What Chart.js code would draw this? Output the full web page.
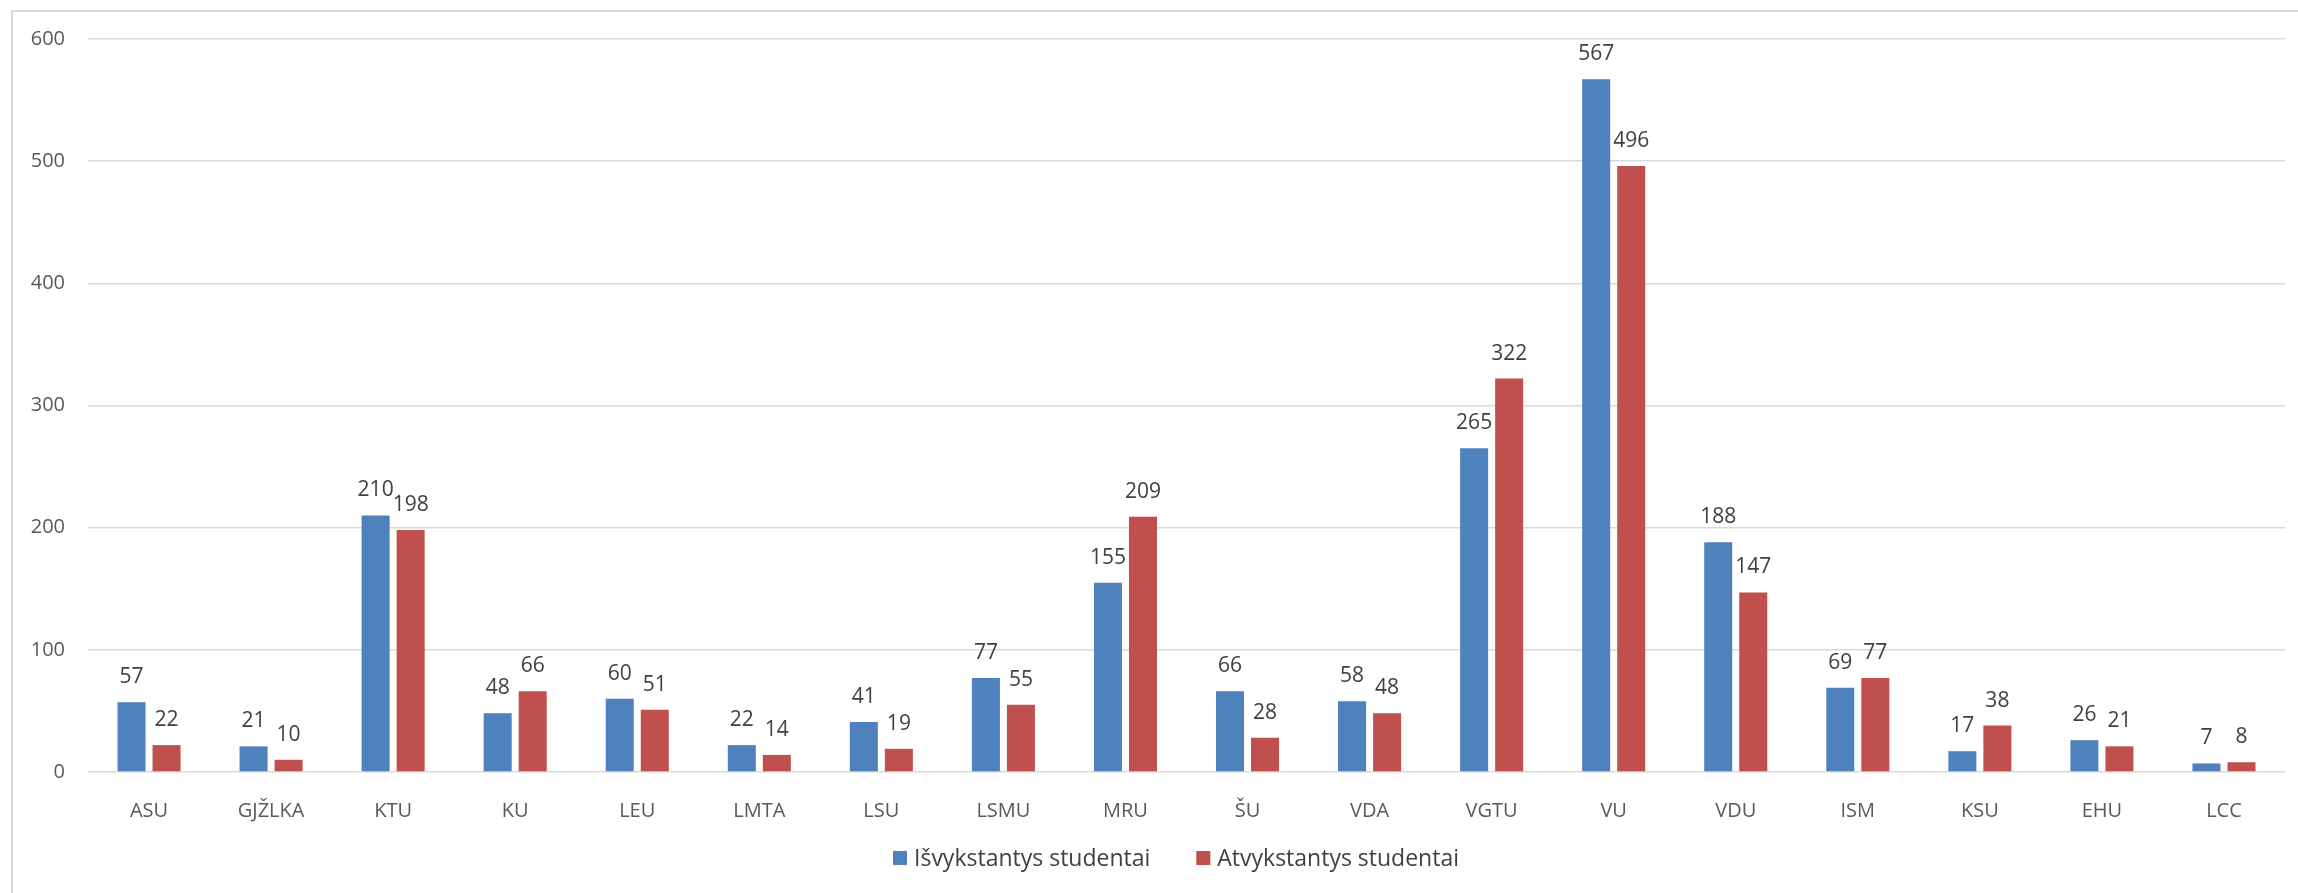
<!DOCTYPE html>
<html>
<head>
<meta charset="utf-8">
<script src="https://cdn.jsdelivr.net/npm/chart.js@4.4.1/dist/chart.umd.min.js"></script>
<style>
  body { margin: 0; background: #fff; }
  #frame { position: absolute; left: 11px; top: 10px; width: 2400px; height: 1000px;
           border-left: 2px solid #d9d9d9; border-top: 2px solid #d9d9d9; }
  #wrap { position: absolute; left: 0; top: 0; width: 2298px; height: 893px; }
</style>
</head>
<body>
<div id="frame"></div>
<div id="wrap"><canvas id="mobilityChart" width="2298" height="893"></canvas></div>
<script>
const universities = ['ASU', 'GJŽLKA', 'KTU', 'KU', 'LEU', 'LMTA', 'LSU', 'LSMU', 'MRU', 'ŠU',
                      'VDA', 'VGTU', 'VU', 'VDU', 'ISM', 'KSU', 'EHU', 'LCC'];
const outgoing = [57, 21, 210, 48, 60, 22, 41, 77, 155, 66, 58, 265, 567, 188, 69, 17, 26, 7];
const incoming = [22, 10, 198, 66, 51, 14, 19, 55, 209, 28, 48, 322, 496, 147, 77, 38, 21, 8];
const yTicks = [0, 100, 200, 300, 400, 500, 600];

const FONT = "'Open Sans', 'Noto Sans', sans-serif";

// value labels above each bar
const valueLabels = {
    id: 'valueLabels',
    afterDatasetsDraw(chart) {
        const ctx = chart.ctx;
        ctx.save();
        ctx.font = '21px ' + FONT;
        ctx.fillStyle = '#404040';
        ctx.textAlign = 'center';
        ctx.textBaseline = 'middle';
        chart.data.datasets.forEach((ds, i) => {
            chart.getDatasetMeta(i).data.forEach((bar, j) => {
                ctx.fillText(ds.data[j], bar.x, bar.y - 25);
            });
        });
        ctx.restore();
    }
};

// legend under the x axis, spaced like the original
const bottomLegend = {
    id: 'bottomLegend',
    afterDraw(chart) {
        const ctx = chart.ctx;
        const box = 14, gapText = 7, gapItem = 46, y = 858;
        ctx.save();
        ctx.font = '23px ' + FONT;
        ctx.textBaseline = 'middle';
        const items = chart.data.datasets.map(ds => ({
            text: ds.label, color: ds.backgroundColor, w: ctx.measureText(ds.label).width
        }));
        let total = items.reduce((s, it) => s + box + gapText + it.w, 0) + gapItem * (items.length - 1);
        let x = 1176 - total / 2;
        items.forEach(it => {
            ctx.fillStyle = it.color;
            ctx.fillRect(x, y - box / 2, box, box);
            ctx.fillStyle = '#404040';
            ctx.fillText(it.text, x + box + gapText, y + 1);
            x += box + gapText + it.w + gapItem;
        });
        ctx.restore();
    }
};

const ctx = document.getElementById('mobilityChart').getContext('2d');
new Chart(ctx, {
    type: 'bar',
    data: {
        labels: universities,
        datasets: [{
            label: 'Išvykstantys studentai',
            data: outgoing,
            backgroundColor: '#4F81BD',
            categoryPercentage: 0.574,
            barPercentage: 0.8
        }, {
            label: 'Atvykstantys studentai',
            data: incoming,
            backgroundColor: '#C0504D',
            categoryPercentage: 0.574,
            barPercentage: 0.8
        }]
    },
    options: {
        responsive: false,
        animation: false,
        layout: { padding: { top: 39, left: 0, right: 13, bottom: 56 } },
        plugins: {
            tooltip: { enabled: false },
            legend: { display: false }
        },
        scales: {
            x: {
                grid: { display: false },
                border: { display: false },
                ticks: { color: '#595959', padding: 19, font: { family: FONT, size: 20 } },
                afterFit(scale) { scale.height = 65; }
            },
            y: {
                min: 0,
                max: 600,
                border: { display: false },
                grid: { color: '#d9d9d9', lineWidth: 1.5, drawTicks: false },
                afterBuildTicks(scale) { scale.ticks = yTicks.map(v => ({ value: v })); },
                ticks: { color: '#595959', padding: 23, font: { family: FONT, size: 20 } },
                afterFit(scale) { scale.width = 88; }
            }
        }
    },
    plugins: [valueLabels, bottomLegend]
});
</script>
</body>
</html>
